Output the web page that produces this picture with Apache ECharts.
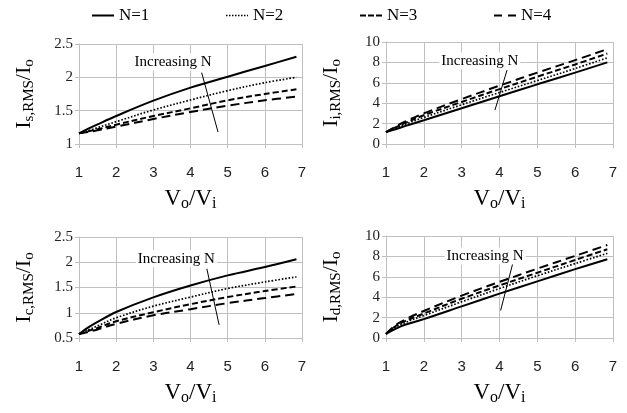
<!DOCTYPE html>
<html><head><meta charset="utf-8">
<script src="https://cdn.jsdelivr.net/npm/echarts@6/dist/echarts.min.js"></script>
<style>html,body{margin:0;padding:0;background:#fff}#c{width:627px;height:413px}</style>
</head><body><div id="c"></div>
<script>
// x values (Vo/Vi)
const vRatio = [1, 1.25, 1.5, 2, 3, 4, 5, 6, 6.85];
const seriesNames = ['N=1', 'N=2', 'N=3', 'N=4'];

// Is,RMS / Io (top-left)
const isN1 = [1.16, 1.23, 1.295, 1.42, 1.65, 1.845, 2.01, 2.17, 2.31];
const isN2 = [1.16, 1.20, 1.245, 1.335, 1.51, 1.66, 1.80, 1.92, 2.0];
const isN3 = [1.16, 1.19, 1.22, 1.29, 1.42, 1.535, 1.655, 1.75, 1.82];
const isN4 = [1.16, 1.18, 1.205, 1.26, 1.375, 1.48, 1.575, 1.655, 1.71];

// Ii,RMS / Io (top-right)
const iiN1 = [1.16, 1.45, 1.75, 2.33, 3.5, 4.68, 5.85, 7.0, 8.0];
const iiN2 = [1.16, 1.55, 1.92, 2.6, 3.85, 5.05, 6.22, 7.4, 8.45];
const iiN3 = [1.16, 1.62, 2.05, 2.82, 4.12, 5.38, 6.6, 7.8, 8.87];
const iiN4 = [1.16, 1.7, 2.18, 3.0, 4.4, 5.72, 7.0, 8.22, 9.3];

// Ic,RMS / Io (bottom-left)
const icN1 = [0.577, 0.71, 0.82, 1.015, 1.305, 1.54, 1.74, 1.905, 2.06];
const icN2 = [0.577, 0.66, 0.74, 0.9, 1.13, 1.31, 1.48, 1.61, 1.71];
const icN3 = [0.577, 0.64, 0.70, 0.83, 1.01, 1.17, 1.31, 1.43, 1.52];
const icN4 = [0.577, 0.62, 0.67, 0.78, 0.95, 1.07, 1.19, 1.29, 1.37];

// Id,RMS / Io (bottom-right)
const idN1 = [0.4, 0.9, 1.3, 1.85, 3.1, 4.35, 5.55, 6.75, 7.72];
const idN2 = [0.4, 1.05, 1.5, 2.2, 3.55, 4.85, 6.1, 7.3, 8.3];
const idN3 = [0.4, 1.15, 1.65, 2.4, 3.85, 5.15, 6.4, 7.65, 8.7];
const idN4 = [0.4, 1.25, 1.8, 2.65, 4.15, 5.5, 6.8, 8.05, 9.12];

// y-axis settings per panel
const yMins = [1, 0, 0.5, 0];
const yMaxs = [2.5, 10, 2.5, 10];
const yIntervals = [0.5, 2, 0.5, 2];
const ySubs = ['s,RMS', 'i,RMS', 'c,RMS', 'd,RMS'];

// "Increasing N" annotations (data coordinates)
const annotText = 'Increasing N';
const annotTextPos = [[3.53, 2.23], [3.48, 8.14], [3.62, 2.07], [3.62, 8.04]];
const arrowStart = [[4.3, 2.07], [3.88, 3.33], [4.44, 1.87], [4.03, 2.7]];
const arrowEnd = [[4.74, 1.18], [4.2, 7.25], [4.77, 0.76], [4.36, 7.45]];

const panels = [
  [isN1, isN2, isN3, isN4],
  [iiN1, iiN2, iiN3, iiN4],
  [icN1, icN2, icN3, icN4],
  [idN1, idN2, idN3, idN4]
];

const serif = 'Liberation Serif';
const sans = 'Liberation Sans';
const gridColor = '#c0c0c0';

const grids = [
  {left: 79, top: 44, width: 223, height: 100},
  {left: 386, top: 42, width: 227, height: 102},
  {left: 79, top: 237, width: 223, height: 101},
  {left: 386, top: 236, width: 227, height: 102}
];

const lineStyles = [
  {type: 'solid', width: 2},
  {type: [1.6, 1.8], width: 1.7},
  {type: [6, 3], width: 2},
  {type: [9, 5], width: 2}
];

// legend icon shapes (filled rectangles forming solid / dotted / dashed strokes)
function dashIcon(dash, gap, h, total) {
  let p = 'path://';
  for (let x = 0; x < total - 0.01; x += dash + gap) {
    const w = Math.min(dash, total - x);
    p += 'M' + x + ',0h' + w + 'v' + h + 'h-' + w + 'z';
  }
  return p;
}
const legendIcons = [
  dashIcon(22, 0, 2, 22),
  dashIcon(1.5, 1.5, 1.5, 22),
  dashIcon(6, 2, 2, 22),
  dashIcon(8, 6, 2, 22)
];
const legendLefts = [87, 221, 355, 489];

const xAxes = grids.map((g, i) => ({
  type: 'value', gridIndex: i, min: 1, max: 7, interval: 1,
  axisLine: {show: true, lineStyle: {color: gridColor}},
  axisTick: {show: true, length: 4, lineStyle: {color: gridColor}},
  splitLine: {show: true, lineStyle: {color: gridColor}},
  axisLabel: {color: '#222', fontFamily: sans, fontSize: 15, margin: 21},
  name: '{a|V}{b|o}{a|/V}{b|i}',
  nameLocation: 'middle', nameGap: 42,
  nameTextStyle: {
    rich: {
      a: {fontFamily: serif, fontSize: 23, lineHeight: 26, color: '#000'},
      b: {fontFamily: serif, fontSize: 16, lineHeight: 16, verticalAlign: 'bottom', color: '#000'}
    }
  }
}));

const yAxes = grids.map((g, i) => ({
  type: 'value', gridIndex: i, min: yMins[i], max: yMaxs[i], interval: yIntervals[i],
  axisLine: {show: true, lineStyle: {color: gridColor}},
  axisTick: {show: true, length: 4, lineStyle: {color: gridColor}},
  splitLine: {show: true, lineStyle: {color: gridColor}},
  axisLabel: {color: '#222', fontFamily: serif, fontSize: 15, margin: 6},
  name: '{a|I}{b|' + ySubs[i] + '}{a|/I}{b|o}',
  nameLocation: 'middle', nameGap: 42, nameRotate: 90,
  nameTextStyle: {
    rich: {
      a: {fontFamily: serif, fontSize: 22, lineHeight: 26, color: '#000'},
      b: {fontFamily: serif, fontSize: 15, lineHeight: 15, verticalAlign: 'bottom', color: '#000'}
    }
  }
}));

const series = [];
panels.forEach((arrs, p) => {
  arrs.forEach((arr, k) => {
    const s = {
      type: 'line', name: seriesNames[k], xAxisIndex: p, yAxisIndex: p,
      data: vRatio.map((x, j) => [x, arr[j]]),
      symbol: 'none', showSymbol: false, smooth: 0.35,
      color: '#000',
      lineStyle: Object.assign({color: '#000'}, lineStyles[k]),
      z: 3
    };
    if (k === 0) {
      s.markLine = {
        silent: true, symbol: ['none', 'arrow'], symbolSize: [0, 7],
        label: {show: false},
        lineStyle: {color: '#000', width: 1, type: 'solid'},
        data: [[{coord: arrowStart[p]}, {coord: arrowEnd[p]}]]
      };
      s.markPoint = {
        silent: true, symbol: 'rect', symbolSize: 1,
        itemStyle: {color: 'rgba(0,0,0,0)'},
        label: {
          show: true, position: 'inside', formatter: annotText,
          fontFamily: serif, fontSize: 15, color: '#000',
          backgroundColor: '#fff', padding: [1, 2]
        },
        data: [{coord: annotTextPos[p]}]
      };
    }
    series.push(s);
  });
});

const legends = seriesNames.map((n, k) => ({
  data: [{name: n, icon: legendIcons[k]}],
  top: 2, left: legendLefts[k],
  itemWidth: 22, itemHeight: k === 1 ? 1.5 : 2, itemGap: 5,
  selectedMode: false,
  textStyle: {fontFamily: serif, fontSize: 17, color: '#000', padding: [0, 0, 0, 0]}
}));

const chart = echarts.init(document.getElementById('c'), null, {renderer: 'canvas'});
chart.setOption({
  animation: false,
  backgroundColor: '#fff',
  legend: legends,
  grid: grids,
  xAxis: xAxes,
  yAxis: yAxes,
  series: series
});
</script>
</body></html>
